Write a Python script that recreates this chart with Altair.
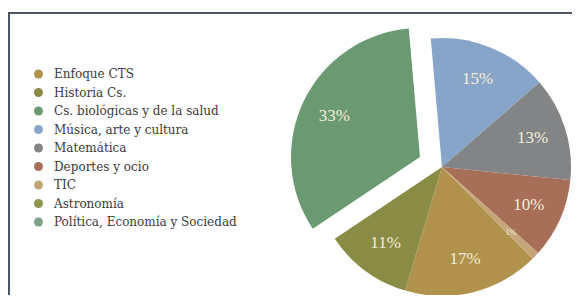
import math
import altair as alt
import pandas as pd

cats = ["Enfoque CTS", "Historia Cs.", "Cs. biológicas y de la salud",
        "Música, arte y cultura", "Matemática", "Deportes y ocio", "TIC",
        "Astronomía", "Política, Economía y Sociedad"]
values = [17, 11, 33, 15, 13, 10, 1, 0, 0]
labels = ["17%", "11%", "33%", "15%", "13%", "10%", "1%", "", ""]
colors = ["#b0924c", "#8a8c45", "#6b9a72", "#87a5c8", "#838486",
          "#a86f58", "#c4a679", "#8e9450", "#7ea384"]
exploded = "Cs. biológicas y de la salud"

start = []
acc = 0
for v in values:
    start.append(acc)
    acc += v
df = pd.DataFrame({"cat": cats, "value": values, "label": labels, "start": start})
df["end"] = df["start"] + df["value"]
df["mid"] = df["start"] + df["value"] / 2

ROT = math.radians(135.4)
CX, CY, R = 434, 159, 129
EX, EY = 412, 149
LR = 95
FONT = "Liberation Serif"

theta_scale = alt.Scale(domain=[0, 100], range=[ROT, ROT + 2 * math.pi])
color_enc = alt.Color(
    "cat:N",
    scale=alt.Scale(domain=cats, range=colors),
    legend=alt.Legend(title=None, orient="none", legendX=24.5, legendY=60,
                      symbolType="circle", symbolSize=81, symbolStrokeWidth=0,
                      symbolOpacity=1, labelFont="DejaVu Serif", labelFontSize=12,
                      labelColor="#3a3a3a", labelOffset=9.5, rowPadding=6.5,
                      padding=0, labelLimit=400),
)

base = alt.Chart(df)

pie_main = base.transform_filter(
    (alt.datum.cat != exploded) & (alt.datum.value > 0)
).mark_arc(radius=R).encode(
    theta=alt.Theta("start:Q", scale=theta_scale, stack=None),
    theta2="end:Q",
    color=color_enc,
    x=alt.value(CX), y=alt.value(CY),
)

pie_expl = base.transform_filter(alt.datum.cat == exploded).mark_arc(radius=R).encode(
    theta=alt.Theta("start:Q", scale=theta_scale, stack=None),
    theta2="end:Q",
    color=color_enc,
    x=alt.value(EX), y=alt.value(EY),
)

txt_main = base.transform_filter(
    (alt.datum.cat != exploded) & (alt.datum.value >= 5)
).mark_text(radius=LR, font=FONT, fontSize=17, color="#f3ecd8").encode(
    theta=alt.Theta("mid:Q", scale=theta_scale, stack=None),
    text="label:N",
    x=alt.value(CX), y=alt.value(CY),
)

txt_small = base.transform_filter(
    (alt.datum.value > 0) & (alt.datum.value < 5)
).mark_text(radius=LR, font=FONT, fontSize=8, color="#f3ecd8").encode(
    theta=alt.Theta("mid:Q", scale=theta_scale, stack=None),
    text="label:N",
    x=alt.value(CX), y=alt.value(CY),
)

txt_expl = base.transform_filter(alt.datum.cat == exploded).mark_text(
    radius=LR, font=FONT, fontSize=17, color="#f3ecd8"
).encode(
    theta=alt.Theta("mid:Q", scale=theta_scale, stack=None),
    text="label:N",
    x=alt.value(EX), y=alt.value(EY),
)

frame_data = alt.Data(values=[{"k": 0}])
top_rule = alt.Chart(frame_data).mark_rule(color="#4b5364", strokeWidth=2).encode(
    x=alt.value(0), x2=alt.value(564), y=alt.value(5)
)
left_rule = alt.Chart(frame_data).mark_rule(color="#4b5364", strokeWidth=2).encode(
    x=alt.value(1), y=alt.value(5), y2=alt.value(287)
)

chart = alt.layer(
    top_rule, left_rule, pie_main, pie_expl, txt_main, txt_small, txt_expl
).properties(
    width=564, height=287,
    autosize=alt.AutoSizeParams(type="none"),
    padding=0, background="white",
).configure_view(stroke=None)

chart.save("out.html", embed_options={"renderer": "svg", "actions": False})
